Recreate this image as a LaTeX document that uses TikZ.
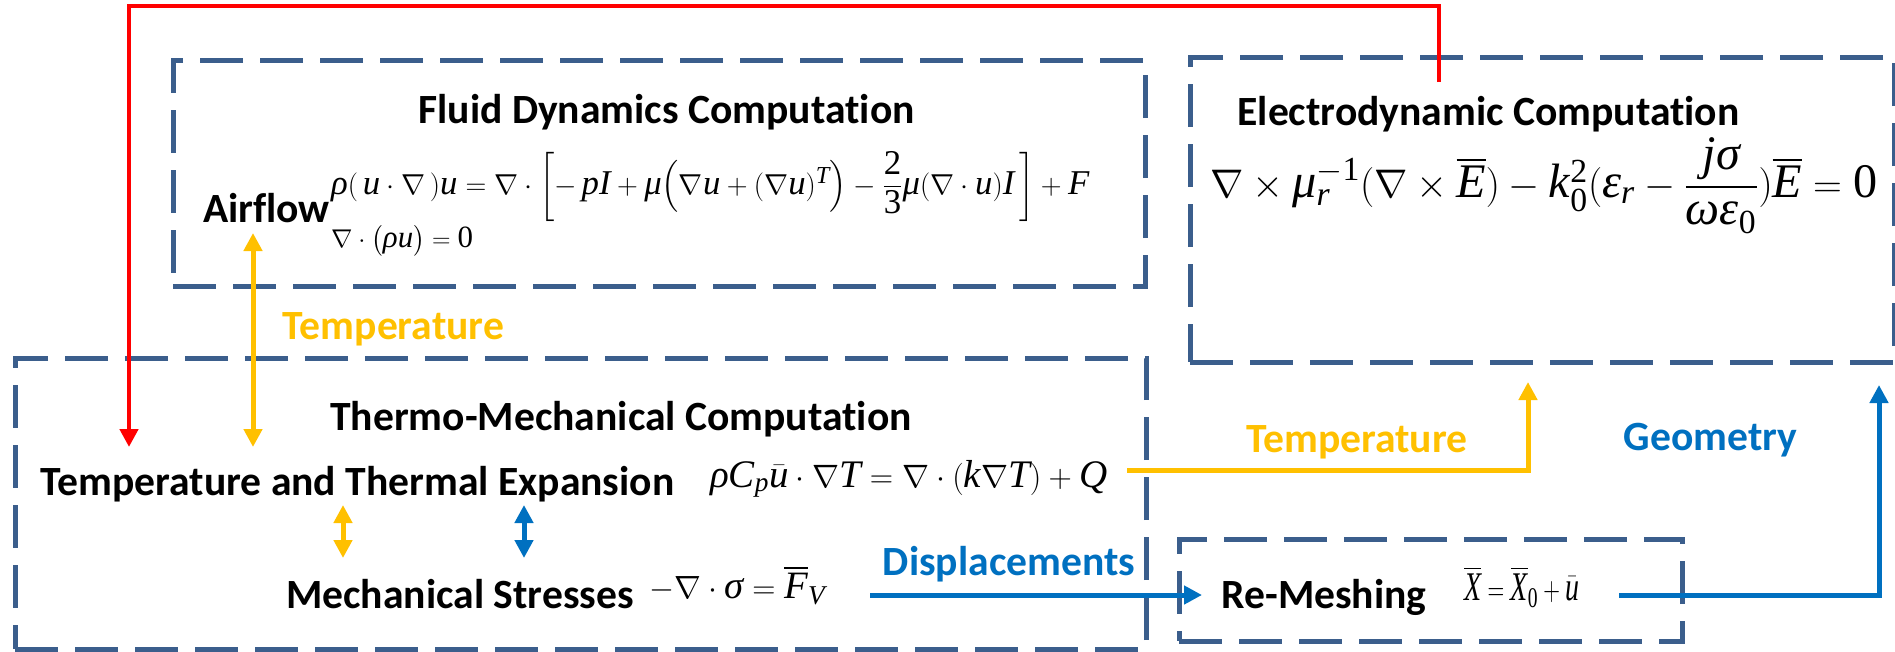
\documentclass[tikz,border=0pt]{standalone}
\usepackage{amsmath}
\usepackage[no-math]{fontspec}
\setmainfont{Carlito}[Ligatures=NoCommon]
\newfontfamily\tmsfam{Liberation Serif}[NFSSFamily=tms]
\DeclareSymbolFont{tmsit}{TU}{tms}{m}{it}
\DeclareSymbolFont{tmsup}{TU}{tms}{m}{n}
\def\tmslet#1{\Umathcode`#1="7 \symtmsit `#1\relax}
\def\tmsdig#1{\Umathcode`#1="0 \symtmsup `#1\relax}
\tmslet u\tmslet p\tmslet I\tmslet T\tmslet F\tmslet E\tmslet k\tmslet j
\tmslet r\tmslet C\tmslet Q\tmslet X\tmslet V
\tmsdig 0\tmsdig 1\tmsdig 2\tmsdig 3
\Umathchardef\trho="7 \symtmsit "03C1
\Umathchardef\tsigma="7 \symtmsit "03C3
\Umathchardef\tomega="7 \symtmsit "03C9
\Umathchardef\tmu="7 \symtmsit "03BC
\Umathchardef\teps="7 \symtmsit "03B5
\usepackage{graphicx}
\usetikzlibrary{arrows.meta}
\definecolor{boxblue}{RGB}{59,94,140}
\definecolor{tyellow}{RGB}{255,192,0}
\definecolor{tblue}{RGB}{0,112,192}
\definecolor{tred}{RGB}{255,0,0}
\begin{document}
\begin{tikzpicture}[x=1pt,y=-1pt,
  box/.style={draw=boxblue, line width=5pt, dash pattern=on 43pt off 17pt, rectangle, inner sep=0pt, outer sep=0pt},
  lbl/.style={font=\fontsize{41.6}{50}\selectfont\bfseries, inner sep=0pt, anchor=base},
  eqn/.style={inner sep=0pt, anchor=base west, font=\fontsize{30}{36}\selectfont},
  onetip/.style={-{Triangle[width=18pt,length=18pt]}},
  twotip/.style={{Triangle[width=18pt,length=18pt]}-{Triangle[width=18pt,length=18pt]}},
  redline/.style={draw=tred, line width=4.5pt, onetip},
  yelline/.style={draw=tyellow, line width=5pt},
  bluline/.style={draw=tblue, line width=5pt}
]
\useasboundingbox (0,0) rectangle (1895,651);

% boxes
\node[box, minimum width=972pt, minimum height=226pt] (fluidbox) at (659,173) {};
\node[box, minimum width=704pt, minimum height=305pt] (elecbox) at (1542,209.5) {};
\node[box, minimum width=1131pt, minimum height=291pt] (thermobox) at (580.5,503.5) {};
\node[box, minimum width=503pt, minimum height=102pt] (meshbox) at (1430.5,590) {};

% labels
\node[lbl] (fluidtitle) at (666.5,123) {Fluid Dynamics Computation};
\node[lbl] (airflow) at (266.5,222) {Airflow};
\node[lbl] (electitle) at (1488.5,125) {Electrodynamic Computation};
\node[lbl, text=tyellow] (temp1) at (393.5,339) {Temperature};
\node[lbl] (thermotitle) at (621,430) {Thermo-Mechanical Computation};
\node[lbl] (tte) at (357.5,495) {Temperature and Thermal Expansion};
\node[lbl] (mech) at (460,608) {Mechanical Stresses};
\node[lbl, text=tblue] (disp) at (1009,575) {Displacements};
\node[lbl, text=tyellow] (temp2) at (1357,452) {Temperature};
\node[lbl, text=tblue] (geom) at (1710.5,450) {Geometry};
\node[lbl] (remesh) at (1324,608) {Re-Meshing};

% equations
\node[eqn] (eqns) at (331,194) {\resizebox{758pt}{!}{$\trho(\,u\cdot\nabla\,)u=\nabla\cdot\left[-\,pI+\tmu\Bigl(\nabla u+(\nabla u)^{T}\Bigr)-\dfrac{2}{3}\tmu(\nabla\cdot u)I\,\right]+F$}};
\node[eqn] (eqcont) at (331,247) {\resizebox{142pt}{!}{$\nabla\cdot\bigl(\trho u\bigr)=0$}};
\node[eqn] (eqelec) at (1210,197) {\resizebox{667pt}{!}{$\nabla\times\tmu_r^{-1}(\nabla\times\overline{E})-k_0^{2}(\teps_r-\dfrac{j\tsigma}{\tomega\teps_0})\overline{E}=0$}};
\node[eqn] (eqheat) at (710,487) {\resizebox{397pt}{!}{$\trho C_p\bar{u}\cdot\nabla T=\nabla\cdot(k\nabla T)+Q$}};
\node[eqn] (eqmech) at (649,598) {\resizebox{176pt}{!}{$-\nabla\cdot\tsigma=\overline{F}_V$}};
\node[eqn] (eqmesh) at (1464,600) {\resizebox*{115pt}{41pt}{$\overline{X}=\overline{X}_0+\bar{u}$}};

% connector end points
\coordinate (redS) at (1439,82);
\coordinate (redTop) at (1439,6);
\coordinate (redT) at (129,447);
\coordinate (yAirA) at (253,233);
\coordinate (yAirB) at (253,447);
\coordinate (yTA) at (1127,470);
\coordinate (yTB) at (1528,382);
\coordinate (dA) at (870,595);
\coordinate (dB) at (1202,595);
\coordinate (gA) at (1619,595);
\coordinate (gB) at (1879,385);
\coordinate (sy1) at (343,505);
\coordinate (sy2) at (343,558);
\coordinate (sb1) at (524,505);
\coordinate (sb2) at (524,558);

% connectors
\draw[redline] (redS) -- (redTop) -| (redT);
\draw[yelline, twotip] (yAirA) -- (yAirB);
\draw[yelline, onetip] (yTA) -| (yTB);
\draw[bluline, onetip] (dA) -- (dB);
\draw[bluline, onetip] (gA) -| (gB);
\draw[yelline, twotip] (sy1) -- (sy2);
\draw[bluline, twotip] (sb1) -- (sb2);
\end{tikzpicture}
\end{document}
